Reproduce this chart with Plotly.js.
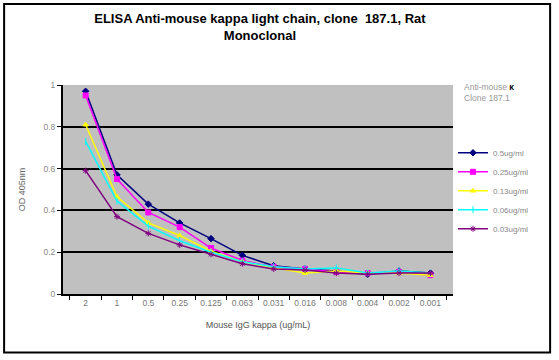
<!DOCTYPE html>
<html><head><meta charset="utf-8">
<script src="https://cdn.plot.ly/plotly-3.0.1.min.js"></script>
<style>body{margin:0;background:#fff}#c{width:559px;height:360px}</style>
</head><body><div id="c"></div>
<script>
const categories = ["2","1","0.5","0.25","0.125","0.063","0.031","0.016","0.008","0.004","0.002","0.001"];
const seriesNames = ["0.5ug/ml","0.25ug/ml","0.13ug/ml","0.06ug/ml","0.03ug/ml"];
const s05  = [0.97,0.57,0.43,0.34,0.265,0.185,0.135,0.12,0.11,0.095,0.11,0.10];
const s025 = [0.95,0.55,0.39,0.32,0.22,0.16,0.13,0.12,0.105,0.10,0.105,0.09];
const s013 = [0.81,0.465,0.34,0.28,0.205,0.155,0.125,0.10,0.11,0.10,0.10,0.09];
const s006 = [0.73,0.445,0.325,0.255,0.20,0.155,0.13,0.12,0.125,0.10,0.11,0.10];
const s003 = [0.59,0.37,0.29,0.235,0.19,0.145,0.12,0.115,0.10,0.095,0.10,0.10];
const yTicks = [0,0.2,0.4,0.6,0.8,1];
const gridVals = [0.2,0.4,0.6,0.8];

const colors = ["#000080","#ff00ff","#ffff00","#00ffff","#800080"];
const symbols = ["diamond","square","triangle-up","line-ns","asterisk"];
const vals = [s05,s025,s013,s006,s003];
const traces = vals.map((v,i)=>({
  x: categories, y: v, name: seriesNames[i], type:"scatter", mode:"lines+markers",
  line:{color:colors[i], width:1.5},
  marker:{color:colors[i], symbol:symbols[i], size:5, line:{color:colors[i], width:1}}
}));
traces.push({x:categories, y:[null], yaxis:"y2", showlegend:false, hoverinfo:"skip", mode:"lines"});

const layout = {
  width:559, height:360,
  margin:{l:63, r:106, t:85, b:66},
  paper_bgcolor:"#ffffff", plot_bgcolor:"#c0c0c0",
  font:{family:"Liberation Sans, Arial, sans-serif", size:9, color:"#777"},
  title:{text:"<b>ELISA Anti-mouse kappa light chain, clone  187.1, Rat<br>Monoclonal</b>",
         x:0.465, xanchor:"center", y:0.937, yanchor:"top",
         font:{size:13, color:"#000", family:"Liberation Sans, Arial, sans-serif"}},
  xaxis:{type:"category", tickson:"boundaries", ticks:"outside", ticklen:4, tickcolor:"#000",
         showline:true, linecolor:"#000", linewidth:2, showgrid:false,
         tickfont:{size:8.5, color:"#777"},
         title:{text:"Mouse IgG kappa (ug/mL)", font:{size:9, color:"#555"}, standoff:14}},
  yaxis:{range:[0,1], tickvals:yTicks, ticktext:yTicks.map(String), ticks:"outside", ticklen:4, tickcolor:"#000",
         showline:true, linecolor:"#000", linewidth:2, showgrid:false, zeroline:false,
         tickfont:{size:8.5, color:"#888"},
         title:{text:"OD 405nm", font:{size:9, color:"#666"}, standoff:16}},
  yaxis2:{range:[0,1], overlaying:"y", tickvals:gridVals, showticklabels:false, showgrid:true,
          gridcolor:"#000", gridwidth:2, zeroline:false, showline:false, ticks:""},
  showlegend:true,
  legend:{x:1.0, xanchor:"left", y:0.745, yanchor:"top", bgcolor:"rgba(0,0,0,0)",
          font:{size:8, color:"#888"}, itemwidth:30, tracegroupgap:0},
  annotations:[{xref:"paper", yref:"paper", x:1.022, y:1.025, xanchor:"left", yanchor:"top", align:"left",
    showarrow:false, text:"Anti-mouse <b style='color:#000'>κ</b><br>Clone 187.1", font:{size:8.5, color:"#999"}}],
  shapes:[{type:"rect", xref:"paper", yref:"paper", x0:-0.151, x1:1.249, y0:-0.28, y1:1.388,
           line:{color:"#000", width:2}, fillcolor:"rgba(0,0,0,0)", layer:"below"}]
};
Plotly.newPlot("c", traces, layout, {displayModeBar:false, staticPlot:true});
</script></body></html>
